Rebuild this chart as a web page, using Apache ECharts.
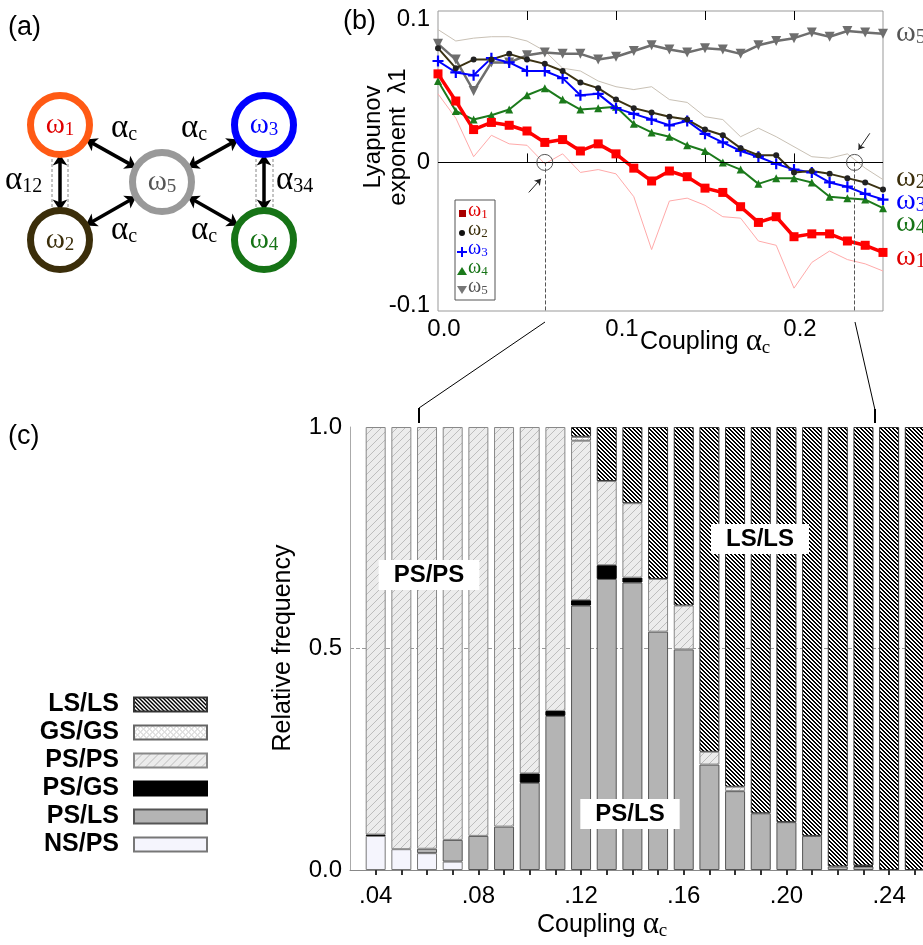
<!DOCTYPE html>
<html>
<head>
<meta charset="utf-8">
<title>Lyapunov exponents and synchronisation states</title>
<script src="https://cdn.jsdelivr.net/npm/echarts@6.0.0/dist/echarts.min.js"></script>
<style>
  html, body { margin: 0; padding: 0; background: #fff; }
  #chart { width: 923px; height: 945px; }
</style>
</head>
<body>
<div id="chart"></div>
<script>
// (b) largest Lyapunov exponent of each oscillator vs coupling
const couplingB = [0, 0.01, 0.02, 0.03, 0.04, 0.05, 0.06, 0.07, 0.08, 0.09, 0.1, 0.11, 0.12,
  0.13, 0.14, 0.15, 0.16, 0.17, 0.18, 0.19, 0.2, 0.21, 0.22, 0.23, 0.24, 0.25];
const lyapW1 = [0.062, 0.043, 0.023, 0.028, 0.026, 0.022, 0.014, 0.016, 0.008, 0.013, 0.006, -0.004, -0.013,
  -0.006, -0.010, -0.018, -0.021, -0.031, -0.042, -0.038, -0.052, -0.050, -0.050, -0.055, -0.058, -0.063];
const lyapW2 = [0.080, 0.066, 0.072, 0.072, 0.076, 0.072, 0.069, 0.064, 0.056, 0.052, 0.044, 0.038, 0.035,
  0.032, 0.030, 0.023, 0.019, 0.010, 0.005, 0.005, -0.007, -0.006, -0.008, -0.011, -0.014, -0.019];
const lyapW3 = [0.071, 0.063, 0.061, 0.073, 0.070, 0.064, 0.064, 0.059, 0.047, 0.048, 0.038, 0.034, 0.030,
  0.026, 0.029, 0.020, 0.014, 0.008, 0.004, -0.001, -0.005, -0.007, -0.014, -0.017, -0.022, -0.026];
const lyapW4 = [0.057, 0.036, 0.030, 0.033, 0.037, 0.047, 0.052, 0.044, 0.037, 0.038, 0.039, 0.027, 0.021,
  0.018, 0.012, 0.008, 0.000, -0.005, -0.015, -0.011, -0.011, -0.014, -0.024, -0.025, -0.026, -0.032];
const lyapW5 = [0.083, 0.072, 0.050, 0.070, 0.070, 0.075, 0.077, 0.076, 0.076, 0.072, 0.074, 0.078, 0.082,
  0.079, 0.077, 0.080, 0.079, 0.076, 0.082, 0.085, 0.087, 0.091, 0.088, 0.092, 0.091, 0.090];
// thin envelope curves
const lyapUpper = [0.093, 0.085, 0.087, 0.088, 0.088, 0.085, 0.078, 0.066, 0.064, 0.057, 0.053, 0.051, 0.053,
  0.044, 0.042, 0.032, 0.030, 0.018, 0.024, 0.018, 0.011, 0.004, 0.003, 0.006, -0.004, -0.012];
const lyapLower = [0.048, 0.031, 0.004, 0.019, 0.013, 0.012, -0.001, 0.006, -0.007, -0.005, -0.008, -0.024, -0.061,
  -0.027, -0.025, -0.030, -0.038, -0.039, -0.055, -0.058, -0.088, -0.070, -0.062, -0.068, -0.071, -0.076];

// (c) relative frequency of the states, bottom to top of each bar
const couplingC = [0.04, 0.05, 0.06, 0.07, 0.08, 0.09, 0.1, 0.11, 0.12, 0.13, 0.14,
  0.15, 0.16, 0.17, 0.18, 0.19, 0.2, 0.21, 0.22, 0.23, 0.24, 0.25];
const freqNSPS = [0.077, 0.047, 0.038, 0.019, 0, 0, 0, 0, 0, 0, 0, 0, 0, 0, 0, 0, 0, 0, 0, 0, 0, 0];
const freqPSLS = [0, 0, 0.010, 0.049, 0.077, 0.098, 0.197, 0.348, 0.597, 0.657, 0.649,
  0.538, 0.498, 0.238, 0.178, 0.128, 0.108, 0.077, 0.008, 0.008, 0, 0];
const freqPSGS = [0.003, 0, 0, 0, 0, 0, 0.021, 0.011, 0.012, 0.031, 0.011, 0, 0, 0, 0, 0, 0, 0, 0, 0.002, 0, 0];
const freqPSPS = [0.920, 0.953, 0.952, 0.932, 0.923, 0.902, 0.782, 0.641, 0.360, 0.190, 0.168,
  0.119, 0.099, 0.029, 0.010, 0, 0, 0, 0, 0, 0, 0];
const freqGSGS = [0, 0, 0, 0, 0, 0, 0, 0, 0.009, 0, 0, 0, 0, 0, 0, 0, 0, 0, 0, 0, 0, 0];
const freqLSLS = [0, 0, 0, 0, 0, 0, 0, 0, 0.022, 0.122, 0.172,
  0.343, 0.403, 0.733, 0.812, 0.872, 0.892, 0.923, 0.992, 0.990, 1, 1];
const legendOrder = ['LS/LS', 'GS/GS', 'PS/PS', 'PS/GS', 'PS/LS', 'NS/PS'];

// tick / label values
const bTicks = [0.05, 0.1, 0.15, 0.2];
const bXLabels = [0, 0.1, 0.2];
const bYLabels = [-0.1, 0, 0.1];
const cXLabels = [0.04, 0.08, 0.12, 0.16, 0.2, 0.24];
const cYLabels = [0, 0.5, 1];

// (a) network
const nodeNames = ['ω1', 'ω2', 'ω3', 'ω4', 'ω5'];
const nodeLinks = [['ω1', 'ω5'], ['ω2', 'ω5'], ['ω3', 'ω5'], ['ω4', 'ω5'], ['ω1', 'ω2'], ['ω3', 'ω4']];

const SANS = '"Liberation Sans", Arial, sans-serif';
const SERIF = '"Liberation Serif", "Times New Roman", serif';
const ringColors = ['#ff5a14', '#3b2e0a', '#0000ff', '#167316', '#999999'];
const textColors = ['#e00000', '#3b2e0a', '#0000ff', '#167316', '#555555'];
const lineColors = ['#ff0000', '#3b3212', '#0000ff', '#1b7a1b', '#6e6e6e'];

let chart = echarts.init(document.getElementById('chart'));

// small repeating fills for the hatched states
function makePattern(size, bg, fg, test) {
  const c = document.createElement('canvas');
  c.width = c.height = size;
  const ctx = c.getContext('2d');
  ctx.fillStyle = bg;
  ctx.fillRect(0, 0, size, size);
  ctx.fillStyle = fg;
  for (let x = 0; x < size; x++) {
    for (let y = 0; y < size; y++) {
      if (test(x, y)) ctx.fillRect(x, y, 1, 1);
    }
  }
  return { image: c, repeat: 'repeat' };
}
const lsFill = makePattern(4, '#fff', '#000', (x, y) => ((x - y + 8) % 4) < 2);
const psFill = makePattern(8, '#ececec', '#bdbdbd', (x, y) => (x + y) % 8 === 0);
const gsFill = makePattern(6, '#fff', '#c4c4c4', (x, y) => (x + y) % 6 === 0 || (x - y + 6) % 6 === 0);

// rich text with a subscript, for graphic elements
function subStyle(main, sub, size, subSize, color, mainFamily) {
  return {
    text: '{m|' + main + '}{s|' + sub + '}',
    fill: color,
    rich: {
      m: { fontSize: size, fontFamily: mainFamily || SERIF, fill: color },
      s: { fontSize: subSize, fontFamily: SERIF, fill: color, verticalAlign: 'bottom', lineHeight: Math.round(subSize * 0.55) }
    }
  };
}

const graphics = [];
function addText(x, y, style, extra) {
  graphics.push(Object.assign({
    type: 'text', x: x, y: y, z: 100, silent: true,
    style: Object.assign({ fill: '#000', align: 'left', verticalAlign: 'middle' }, style)
  }, extra || {}));
}
function addLine(x1, y1, x2, y2, stroke, width, dash) {
  graphics.push({
    type: 'line', z: 100, silent: true,
    shape: { x1: x1, y1: y1, x2: x2, y2: y2 },
    style: { stroke: stroke, lineWidth: width, lineDash: dash || null }
  });
}

// panel letters
addText(8, 28, { text: '(a)', font: '27px ' + SANS });
addText(343, 22, { text: '(b)', font: '27px ' + SANS });
addText(8, 437, { text: '(c)', font: '27px ' + SANS });

// (a) coupling labels and dashed guides
[[111, 128], [181, 128], [111, 230], [191, 230]].forEach(p => addText(p[0], p[1], subStyle('α', 'c', 33, 20, '#000')));
addText(5, 180, subStyle('α', '12', 33, 20, '#000'));
addText(276, 180, subStyle('α', '34', 33, 20, '#000'));
[52, 68, 256, 273].forEach(x => addLine(x, 159, x, 208, '#888', 1, [3, 2]));

// (b) axis titles
addText(373, 137, { text: 'Lyapunov', font: '24px ' + SANS, align: 'center' }, { rotation: Math.PI / 2 });
addText(398, 137, { text: 'exponent  λ1', font: '24px ' + SANS, align: 'center' }, { rotation: Math.PI / 2 });
addText(640, 342, {
  text: '{t|Coupling }{m|α}{s|c}',
  rich: {
    t: { fontSize: 25, fontFamily: SANS, fill: '#000' },
    m: { fontSize: 31, fontFamily: SERIF, fill: '#000' },
    s: { fontSize: 19, fontFamily: SERIF, fill: '#000', verticalAlign: 'bottom', lineHeight: 10 }
  }
});

// (b) end-of-line labels
[[4, 33], [1, 178], [2, 201], [3, 223], [0, 257]].forEach(p => {
  addText(896, p[1], subStyle('ω', String(p[0] + 1), 30, 20, textColors[p[0]]));
});

// (b) inset legend
graphics.push({
  type: 'rect', z: 100, silent: true, shape: { x: 455, y: 200, width: 40, height: 100 },
  style: { fill: '#fff', stroke: '#555', lineWidth: 1 }
});
const legRows = [213, 232, 251, 270, 289];
graphics.push({ type: 'rect', z: 101, silent: true, shape: { x: 459, y: 210, width: 7, height: 7 }, style: { fill: '#a80000' } });
graphics.push({ type: 'circle', z: 101, silent: true, shape: { cx: 462, cy: 233, r: 3 }, style: { fill: '#111' } });
graphics.push({ type: 'rect', z: 101, silent: true, shape: { x: 457, y: 251, width: 10, height: 2 }, style: { fill: '#0000ff' } });
graphics.push({ type: 'rect', z: 101, silent: true, shape: { x: 461, y: 247, width: 2, height: 10 }, style: { fill: '#0000ff' } });
graphics.push({ type: 'polygon', z: 101, silent: true, shape: { points: [[457, 275], [467, 275], [462, 267]] }, style: { fill: '#1b7a1b' } });
graphics.push({ type: 'polygon', z: 101, silent: true, shape: { points: [[457, 286], [467, 286], [462, 294]] }, style: { fill: '#777' } });
legRows.forEach((y, i) => {
  const g = subStyle('ω', String(i + 1), 20, 13, textColors[i]);
  graphics.push({
    type: 'text', x: 468, y: y - 2, z: 101, silent: true,
    style: Object.assign({ align: 'left', verticalAlign: 'middle' }, g)
  });
});

// links between panels (b) and (c)
addLine(545, 322, 419, 408, '#000', 1);
addLine(419, 408, 419, 423, '#000', 2);
addLine(855, 322, 875, 410, '#000', 1);
addLine(875, 409, 875, 423, '#000', 2);

// (c) state labels inside the bars
[[429, 575, 'PS/PS'], [760, 539, 'LS/LS'], [630, 814, 'PS/LS']].forEach(p => {
  addText(p[0], p[1], {
    text: p[2], font: 'bold 24px ' + SANS, align: 'center',
    backgroundColor: '#fff', padding: [4, 15, 2, 15]
  });
});
addText(283, 648, { text: 'Relative frequency', font: '25px ' + SANS, align: 'center' }, { rotation: Math.PI / 2 });
addText(537, 925, {
  text: '{t|Coupling }{m|α}{s|c}',
  rich: {
    t: { fontSize: 25, fontFamily: SANS, fill: '#000' },
    m: { fontSize: 31, fontFamily: SERIF, fill: '#000' },
    s: { fontSize: 19, fontFamily: SERIF, fill: '#000', verticalAlign: 'bottom', lineHeight: 10 }
  }
});

function lyapSeries(name, vals, color, width, symbol, size, extra) {
  return Object.assign({
    type: 'line', name: name, xAxisIndex: 0, yAxisIndex: 0,
    data: couplingB.map((x, i) => [x, vals[i]]),
    lineStyle: { color: color, width: width },
    itemStyle: { color: color },
    symbol: symbol, symbolSize: size,
    showSymbol: symbol !== 'none', showAllSymbol: true,
    silent: true
  }, extra || {});
}

const nodeRich = {};
nodeNames.forEach((n, i) => {
  nodeRich['w' + i] = { fontSize: 29, fontFamily: SERIF, color: textColors[i] };
  nodeRich['s' + i] = { fontSize: 19, fontFamily: SERIF, color: textColors[i], verticalAlign: 'bottom', lineHeight: 10 };
});
const nodePos = [[60, 125], [60, 240], [264, 125], [264, 240], [162, 182]];

// value goes first so that the stack runs along y
const barSeries = [
  ['NS/PS', freqNSPS, { color: '#f5f5fd', borderColor: '#777' }],
  ['PS/LS', freqPSLS, { color: '#b4b4b4', borderColor: '#555' }],
  ['PS/GS', freqPSGS, { color: '#000', borderColor: '#000' }],
  ['PS/PS', freqPSPS, { color: psFill, borderColor: '#888' }],
  ['GS/GS', freqGSGS, { color: gsFill, borderColor: '#666' }],
  ['LS/LS', freqLSLS, { color: lsFill, borderColor: '#333' }]
].map(([name, vals, style]) => ({
  type: 'bar', name: name, stack: 'freq', xAxisIndex: 2, yAxisIndex: 1,
  barWidth: 20, silent: true,
  encode: { x: 1, y: 0 },
  itemStyle: Object.assign({ borderWidth: 1 }, style),
  data: couplingC.map((x, i) => (vals[i] > 0 ? [vals[i], x] : ['-', x]))
}));

let option = {
  animation: false,
  backgroundColor: '#fff',
  grid: [
    { left: 438, top: 11, width: 445, height: 300, show: true, borderColor: '#999', borderWidth: 1 },
    { left: 350, top: 427, right: 0, bottom: 75 }
  ],
  xAxis: [
    {
      gridIndex: 0, type: 'value', min: 0, max: 0.25,
      axisLine: { show: false }, splitLine: { show: false },
      axisTick: { show: true, inside: true, length: 9, lineStyle: { color: '#000' }, customValues: bTicks },
      axisLabel: {
        customValues: bXLabels, formatter: v => v.toFixed(1), fontSize: 24, fontFamily: SANS,
        color: '#000', margin: 6, padding: [0, 0, 0, 12]
      }
    },
    {
      gridIndex: 0, type: 'value', position: 'top', min: 0, max: 0.25,
      axisLine: { show: false }, splitLine: { show: false },
      axisTick: { show: true, inside: true, length: 9, lineStyle: { color: '#000' }, customValues: bTicks },
      axisLabel: { show: false }
    },
    {
      gridIndex: 1, type: 'value', min: 0.03, max: 0.2532,
      axisLine: { show: true, lineStyle: { color: '#888' } }, splitLine: { show: false },
      axisTick: { show: true, length: 5, lineStyle: { color: '#333', width: 2 }, customValues: couplingC },
      axisLabel: { customValues: cXLabels, formatter: v => v.toFixed(2).slice(1), fontSize: 24, fontFamily: SANS, color: '#000', margin: 14 }
    }
  ],
  yAxis: [
    {
      gridIndex: 0, type: 'value', min: -0.104, max: 0.106,
      axisLine: { show: false }, axisTick: { show: false }, splitLine: { show: false },
      axisLabel: {
        customValues: bYLabels, formatter: v => (v === 0 ? '0' : v.toFixed(1)), fontSize: 24, fontFamily: SANS,
        color: '#000', margin: 8, padding: [4, 0, 0, 0]
      }
    },
    {
      gridIndex: 1, type: 'value', min: 0, max: 1,
      axisLine: { show: true, lineStyle: { color: '#aaa' } },
      axisTick: { show: false, customValues: [0.5] },
      splitLine: { show: true, lineStyle: { color: '#999', type: 'dashed' } },
      axisLabel: { customValues: cYLabels, formatter: v => v.toFixed(1), fontSize: 24, fontFamily: SANS, color: '#000', margin: 8 }
    }
  ],
  legend: [{
    data: legendOrder, orient: 'vertical', right: 715, top: 692, padding: 0,
    align: 'right', icon: 'rect', itemWidth: 73, itemHeight: 14, itemGap: 3,
    selectedMode: false,
    textStyle: { fontSize: 25, fontWeight: 'bold', fontFamily: SANS, color: '#000', padding: [0, 10, 0, 0] }
  }],
  graphic: graphics,
  series: [
    {
      type: 'graph', name: 'network', layout: 'none',
      left: 60, top: 125, width: 204, height: 115,
      roam: false, silent: true,
      symbol: 'circle', symbolSize: 59,
      edgeSymbol: ['arrow', 'arrow'], edgeSymbolSize: 11,
      lineStyle: { color: '#000', width: 3.5, opacity: 1, curveness: 0 },
      label: {
        show: true, position: 'inside',
        formatter: p => '{w' + p.dataIndex + '|ω}{s' + p.dataIndex + '|' + p.name.slice(1) + '}',
        rich: nodeRich
      },
      data: nodeNames.map((n, i) => ({
        name: n, x: nodePos[i][0], y: nodePos[i][1],
        itemStyle: { color: '#fff', borderColor: ringColors[i], borderWidth: 7 }
      })),
      links: nodeLinks.map(l => ({ source: l[0], target: l[1] }))
    },
    lyapSeries('upper', lyapUpper, '#c9c1b5', 1, 'none', 0, {
      markLine: {
        silent: true, symbol: ['none', 'none'], label: { show: false },
        data: [
          { yAxis: 0, lineStyle: { color: '#000', type: 'solid', width: 1 } },
          [{ coord: [0.06, 0] }, { coord: [0.06, -0.104] }],
          [{ coord: [0.234, 0] }, { coord: [0.234, -0.104] }],
          [{ coord: [0.051, -0.021], lineStyle: { type: 'solid', color: '#222' } },
            { coord: [0.0578, -0.0115], symbol: 'arrow', symbolSize: 6 }],
          [{ coord: [0.2426, 0.0204], lineStyle: { type: 'solid', color: '#222' } },
            { coord: [0.2362, 0.0088], symbol: 'arrow', symbolSize: 6 }]
        ],
        lineStyle: { color: '#555', type: 'dashed', width: 1 }
      },
      markPoint: {
        silent: true, symbol: 'circle', symbolSize: 16, label: { show: false },
        itemStyle: { color: 'rgba(0,0,0,0)', borderColor: '#555', borderWidth: 1 },
        data: [{ coord: [0.06, 0] }, { coord: [0.234, 0] }]
      }
    }),
    lyapSeries('lower', lyapLower, '#ffaaaa', 1, 'none', 0),
    lyapSeries('ω5', lyapW5, lineColors[4], 2.5, 'triangle', 10, { symbolRotate: 180 }),
    lyapSeries('ω4', lyapW4, lineColors[3], 2, 'triangle', 8),
    lyapSeries('ω3', lyapW3, lineColors[2], 2, 'path://M4,0H6V4H10V6H6V10H4V6H0V4H4Z', 11),
    lyapSeries('ω2', lyapW2, lineColors[1], 2, 'circle', 6, { itemStyle: { color: '#222' } }),
    lyapSeries('ω1', lyapW1, lineColors[0], 3.5, 'rect', 9)
  ].concat(barSeries)
};

chart.setOption(option);
</script>
</body>
</html>
